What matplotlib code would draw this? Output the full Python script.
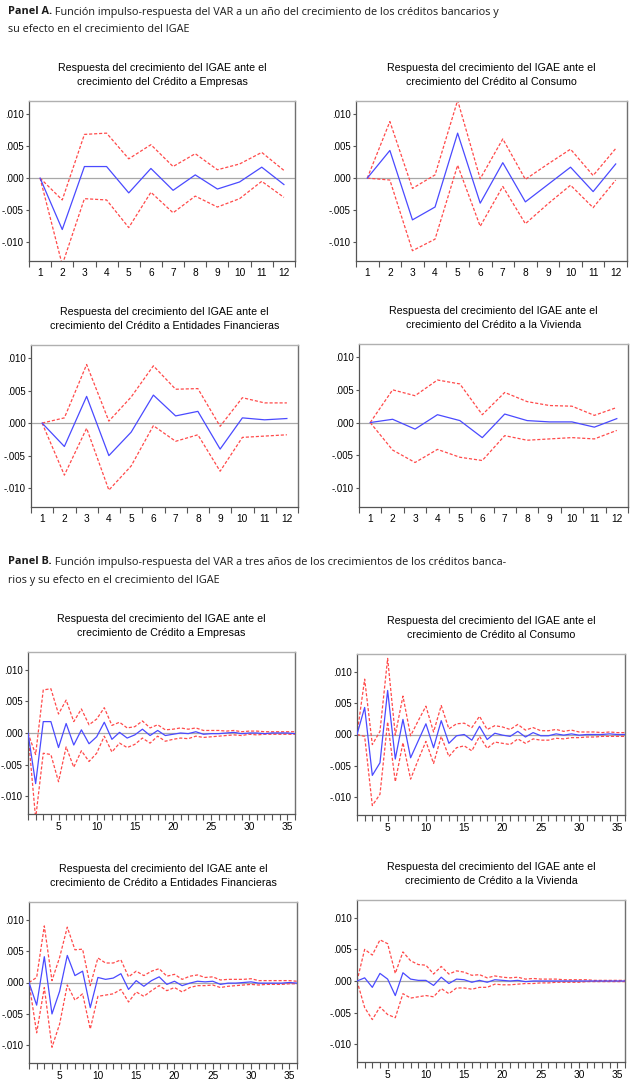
import matplotlib
matplotlib.use("Agg")
import matplotlib.pyplot as plt
import numpy as np

# ---------------- data ----------------
periods_a = list(range(1, 13))
periods_b = list(range(1, 37))

# Panel A (12 periods)
emp_resp = [0, -0.0080, 0.0018, 0.0018, -0.0023, 0.0015, -0.0019, 0.0005, -0.0017, -0.0006, 0.0017, -0.0010]
emp_up   = [0, -0.0034, 0.0068, 0.0070, 0.0030, 0.0052, 0.0018, 0.0038, 0.0013, 0.0022, 0.0040, 0.0012]
emp_lo   = [0, -0.0135, -0.0032, -0.0034, -0.0077, -0.0022, -0.0054, -0.0028, -0.0045, -0.0032, -0.0005, -0.0030]

con_resp = [0, 0.0043, -0.0065, -0.0045, 0.0070, -0.0039, 0.0024, -0.0037, -0.0010, 0.0017, -0.0021, 0.0022]
con_up   = [0, 0.0088, -0.0016, 0.0005, 0.0121, -0.0001, 0.0061, -0.0002, 0.0022, 0.0045, 0.0004, 0.0046]
con_lo   = [0, -0.0003, -0.0113, -0.0095, 0.0020, -0.0075, -0.0013, -0.0071, -0.0040, -0.0011, -0.0046, -0.0003]

fin_resp = [0, -0.0036, 0.0041, -0.0050, -0.0014, 0.0043, 0.0011, 0.0018, -0.0040, 0.0008, 0.0005, 0.0007]
fin_up   = [0, 0.0008, 0.0090, 0.0003, 0.0040, 0.0088, 0.0052, 0.0053, -0.0005, 0.0039, 0.0031, 0.0031]
fin_lo   = [0, -0.0080, -0.0008, -0.0103, -0.0066, -0.0004, -0.0028, -0.0018, -0.0074, -0.0022, -0.0020, -0.0018]

viv_resp = [0, 0.0005, -0.0010, 0.0012, 0.0003, -0.0023, 0.0013, 0.0003, 0.0001, 0.0001, -0.0007, 0.0006]
viv_up   = [0, 0.0050, 0.0041, 0.0065, 0.0059, 0.0012, 0.0046, 0.0032, 0.0026, 0.0025, 0.0011, 0.0023]
viv_lo   = [0, -0.0042, -0.0061, -0.0041, -0.0053, -0.0058, -0.0020, -0.0027, -0.0025, -0.0023, -0.0025, -0.0012]

# Panel B continuation (periods 13..36)
emp_resp_b = emp_resp + [0.0001, -0.0008, -0.0003, 0.0006, -0.0004, 0.0004, -0.0004, -0.0002, 0.0000, -0.0001,
                         0.0002, -0.0002, -0.0001, -0.0001, 0.0000, 0.0001, -0.0001, 0.0000, 0.0000, -0.0001,
                         0.0000, 0.0000, 0.0000, -0.0001]
emp_up_b = emp_up + [0.0017, 0.0008, 0.0010, 0.0019, 0.0008, 0.0013, 0.0005, 0.0006, 0.0008, 0.0006,
                     0.0008, 0.0004, 0.0004, 0.0004, 0.0003, 0.0004, 0.0002, 0.0003, 0.0003, 0.0002,
                     0.0002, 0.0002, 0.0002, 0.0002]
emp_lo_b = emp_lo + [-0.0016, -0.0023, -0.0018, -0.0008, -0.0016, -0.0005, -0.0013, -0.0010, -0.0008, -0.0009,
                     -0.0005, -0.0007, -0.0006, -0.0005, -0.0004, -0.0003, -0.0004, -0.0002, -0.0003, -0.0002,
                     -0.0002, -0.0002, -0.0002, -0.0002]

con_resp_b = con_resp + [-0.0014, -0.0002, 0.0000, -0.0009, 0.0013, -0.0008, 0.0002, -0.0001, -0.0003, 0.0005,
                         -0.0004, 0.0003, -0.0002, -0.0002, 0.0001, -0.0001, 0.0001, -0.0001, 0.0000, 0.0000,
                         0.0000, 0.0001, 0.0000, 0.0000]
con_up_b = con_up + [0.0009, 0.0017, 0.0018, 0.0011, 0.0029, 0.0008, 0.0014, 0.0012, 0.0008, 0.0016,
                     0.0007, 0.0011, 0.0006, 0.0006, 0.0008, 0.0005, 0.0007, 0.0004, 0.0004, 0.0004,
                     0.0003, 0.0004, 0.0003, 0.0003]
con_lo_b = con_lo + [-0.0035, -0.0021, -0.0018, -0.0026, -0.0003, -0.0022, -0.0012, -0.0014, -0.0016, -0.0007,
                     -0.0014, -0.0007, -0.0009, -0.0009, -0.0006, -0.0007, -0.0005, -0.0005, -0.0004, -0.0004,
                     -0.0003, -0.0003, -0.0003, -0.0003]

fin_resp_b = fin_resp + [0.0014, -0.0011, 0.0003, -0.0006, 0.0003, 0.0009, -0.0003, 0.0002, -0.0005, -0.0001,
                         0.0002, 0.0001, 0.0002, -0.0003, -0.0001, -0.0001, 0.0000, 0.0001, -0.0001, -0.0001,
                         -0.0001, -0.0001, 0.0000, -0.0001]
fin_up_b = fin_up + [0.0036, 0.0009, 0.0018, 0.0011, 0.0018, 0.0022, 0.0010, 0.0013, 0.0005, 0.0010,
                     0.0012, 0.0008, 0.0009, 0.0004, 0.0005, 0.0005, 0.0005, 0.0006, 0.0003, 0.0003,
                     0.0003, 0.0003, 0.0003, 0.0002]
fin_lo_b = fin_lo + [-0.0011, -0.0031, -0.0015, -0.0022, -0.0013, -0.0005, -0.0013, -0.0008, -0.0015, -0.0008,
                     -0.0005, -0.0005, -0.0004, -0.0008, -0.0006, -0.0005, -0.0004, -0.0003, -0.0004, -0.0003,
                     -0.0003, -0.0003, -0.0002, -0.0002]

viv_resp_b = viv_resp + [-0.0004, 0.0003, 0.0002, -0.0002, 0.0001, -0.0002, 0.0002, 0.0001, 0.0000, 0.0001,
                         -0.0001, 0.0000, 0.0000, 0.0000, 0.0000, 0.0000, 0.0000, 0.0000, 0.0000, 0.0000,
                         0.0000, 0.0000, 0.0000, 0.0000]
viv_up_b = viv_up + [0.0011, 0.0016, 0.0014, 0.0009, 0.0010, 0.0005, 0.0008, 0.0006, 0.0005, 0.0006,
                     0.0003, 0.0004, 0.0003, 0.0003, 0.0003, 0.0002, 0.0002, 0.0002, 0.0002, 0.0001,
                     0.0001, 0.0001, 0.0001, 0.0001]
viv_lo_b = viv_lo + [-0.0020, -0.0011, -0.0011, -0.0013, -0.0010, -0.0010, -0.0005, -0.0006, -0.0006, -0.0005,
                     -0.0004, -0.0004, -0.0003, -0.0003, -0.0002, -0.0002, -0.0002, -0.0002, -0.0001, -0.0001,
                     -0.0001, -0.0001, -0.0001, -0.0001]

titles_a = ["Respuesta del crecimiento del IGAE ante el\ncrecimiento del Crédito a Empresas",
            "Respuesta del crecimiento del IGAE ante el\ncrecimiento del Crédito al Consumo",
            "Respuesta del crecimiento del IGAE ante el\ncrecimiento del Crédito a Entidades Financieras",
            "Respuesta del crecimiento del IGAE ante el\ncrecimiento del Crédito a la Vivienda"]
titles_b = ["Respuesta del crecimiento del IGAE ante el\ncrecimiento de Crédito a Empresas",
            "Respuesta del crecimiento del IGAE ante el\ncrecimiento de Crédito al Consumo",
            "Respuesta del crecimiento del IGAE ante el\ncrecimiento de Crédito a Entidades Financieras",
            "Respuesta del crecimiento del IGAE ante el\ncrecimiento de Crédito a la Vivienda"]

ytick_vals = [-0.010, -0.005, 0.000, 0.005, 0.010]
ytick_labels = ["-.010", "-.005", ".000", ".005", ".010"]
xtick_b = [5, 10, 15, 20, 25, 30, 35]

header_a = ["Panel A.", " Función impulso-respuesta del VAR a un año del crecimiento de los créditos bancarios y",
            "su efecto en el crecimiento del IGAE"]
header_b = ["Panel B.", " Función impulso-respuesta del VAR a tres años de los crecimientos de los créditos banca-",
            "rios y su efecto en el crecimiento del IGAE"]

# ---------------- layout ----------------
W, H = 633, 1089
fig = plt.figure(figsize=(W / 100, H / 100), dpi=100)
fig.patch.set_facecolor("white")

def box(l, t, r, b):
    return [l / W, 1 - b / H, (r - l) / W, (b - t) / H]

boxes_a = [(29, 101, 295, 261), (356, 101, 627, 261), (31, 345, 298, 507), (359, 344, 628, 507)]
boxes_b = [(28, 652, 295, 814), (357, 654, 625, 815), (29, 902, 297, 1063), (357, 900, 625, 1062)]

TFONT = "Liberation Sans"
BLUE = "#4a4aff"
RED = "#ff4a4a"
TSIZE = 6.9

def style_axes(ax):
    for s in ["left", "bottom"]:
        ax.spines[s].set_color("#555555")
        ax.spines[s].set_linewidth(0.9)
    ax.spines["top"].set_color("#b0b0b0")
    ax.spines["top"].set_linewidth(1.0)
    ax.spines["right"].set_color("#707070")
    ax.spines["right"].set_linewidth(1.0)
    ax.set_yticks(ytick_vals)
    ax.set_yticklabels(ytick_labels, fontfamily=TFONT, fontsize=TSIZE)
    ax.tick_params(axis="y", direction="out", length=2, width=0.8, color="#555555", pad=2)
    ax.axhline(0, color="#a8a8a8", lw=0.9, zorder=1)

def draw(ax, x, resp, up, lo):
    ax.plot(x, up, color=RED, lw=0.9, ls=(0, (2.5, 1.5)), zorder=2)
    ax.plot(x, lo, color=RED, lw=0.9, ls=(0, (2.5, 1.5)), zorder=2)
    ax.plot(x, resp, color=BLUE, lw=0.9, zorder=3)

def add_title(ax, bx, title):
    ax.text(0.5, 1.0 + 14 / (bx[3] - bx[1]), title, transform=ax.transAxes, ha="center", va="bottom",
            fontfamily=TFONT, fontsize=7.7, linespacing=1.55)

data_a = [(emp_resp, emp_up, emp_lo), (con_resp, con_up, con_lo),
          (fin_resp, fin_up, fin_lo), (viv_resp, viv_up, viv_lo)]
data_b = [(emp_resp_b, emp_up_b, emp_lo_b), (con_resp_b, con_up_b, con_lo_b),
          (fin_resp_b, fin_up_b, fin_lo_b), (viv_resp_b, viv_up_b, viv_lo_b)]

for bx, title, (r, u, l) in zip(boxes_a, titles_a, data_a):
    ax = fig.add_axes(box(*bx))
    draw(ax, periods_a, r, u, l)
    style_axes(ax)
    ax.set_xlim(0.5, 12.5)
    ax.set_ylim(-0.0129, 0.0120)
    ax.set_xticks(periods_a)
    ax.set_xticklabels([str(p) for p in periods_a], fontfamily=TFONT, fontsize=7.3)
    ax.set_xticks(np.arange(0.5, 13, 1.0), minor=True)
    ax.tick_params(axis="x", which="major", length=0, pad=5)
    ax.tick_params(axis="x", which="minor", direction="out", length=4, width=0.8, color="#555555")
    add_title(ax, bx, title)

for bx, title, (r, u, l) in zip(boxes_b, titles_b, data_b):
    ax = fig.add_axes(box(*bx))
    draw(ax, periods_b, r, u, l)
    style_axes(ax)
    ax.set_xlim(1, 36)
    ax.set_ylim(-0.0128, 0.0128)
    ax.set_xticks(xtick_b)
    ax.set_xticklabels([str(p) for p in xtick_b], fontfamily=TFONT, fontsize=7.3)
    ax.set_xticks(periods_b, minor=True)
    ax.tick_params(axis="x", which="major", direction="out", length=4, width=0.8, color="#555555", pad=2)
    ax.tick_params(axis="x", which="minor", direction="out", length=4, width=0.8, color="#555555")
    add_title(ax, bx, title)

# headers
HFONT = "Open Sans"
HSIZE = 7.85
def header(lines, y1, y2):
    t = fig.text(8 / W, 1 - y1 / H, lines[0], fontfamily=HFONT, fontsize=HSIZE,
                 fontweight="bold", va="center", ha="left", color="#1a1a1a")
    fig.canvas.draw()
    bb = t.get_window_extent(renderer=fig.canvas.get_renderer())
    fig.text(bb.x1 / W, 1 - y1 / H, lines[1], fontfamily=HFONT, fontsize=HSIZE,
             va="center", ha="left", color="#1a1a1a")
    fig.text(8 / W, 1 - y2 / H, lines[2], fontfamily=HFONT, fontsize=HSIZE,
             va="center", ha="left", color="#1a1a1a")

header(header_a, 12, 29)
header(header_b, 562, 580)

fig.savefig("out.png", dpi=100, facecolor="white")
